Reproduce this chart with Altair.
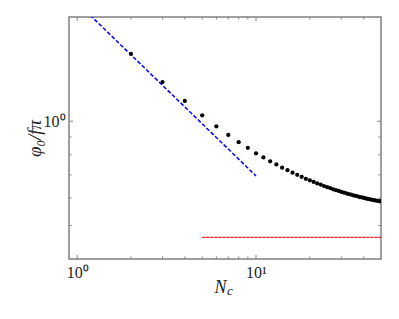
import altair as alt
import pandas as pd

# Data
N_vals = list(range(2, 51))
phi_vals = [1.565, 1.297, 1.144, 1.040, 0.967, 0.913, 0.870, 0.838, 0.808, 0.786,
            0.766, 0.750, 0.734, 0.722, 0.710, 0.700, 0.691,
            0.682, 0.675, 0.668, 0.661, 0.656, 0.650, 0.645, 0.641, 0.636, 0.632,
            0.629, 0.625, 0.622, 0.619, 0.616, 0.614, 0.611, 0.609, 0.607, 0.604,
            0.603, 0.601, 0.599, 0.597, 0.596, 0.594, 0.593, 0.591, 0.590, 0.589,
            0.588, 0.587]

fit_N = [1, 10]
fit_phi = [2.2, 0.695]

lim_N = [5, 50]
lim_phi = [0.462, 0.462]

x_major = [1, 10]
x_minor = [2, 3, 4, 5, 6, 7, 8, 9, 20, 30, 40]
y_major = [1]
y_minor = [0.5, 0.6, 0.7, 0.8, 0.9]

W, H = 312, 242
FONT = "Liberation Serif"
GRAY = "#808080"

pts = pd.DataFrame({"N": N_vals, "phi": phi_vals})
fit = pd.DataFrame({"N": fit_N, "phi": fit_phi})
lim = pd.DataFrame({"N": lim_N, "phi": lim_phi})

xscale = alt.Scale(type="log", domain=[0.9, 50], nice=False)
yscale = alt.Scale(type="log", domain=[0.4, 2], nice=False)

xaxis = alt.Axis(values=x_major, labelExpr="datum.value == 1 ? '10⁰' : '10¹'",
                 ticks=False, domain=False, grid=False, labelFont=FONT,
                 labelFontSize=16, labelColor="#222", labelPadding=5,
                 title="N", titleFont=FONT, titleFontStyle="italic",
                 titleFontWeight="normal", titleFontSize=18, titleColor="#222",
                 titleX=151, titleY=33, titleBaseline="alphabetic")
yaxis = alt.Axis(values=y_major, labelExpr="'10⁰'", ticks=False, domain=False,
                 grid=False, labelFont=FONT, labelFontSize=16, labelColor="#222",
                 labelPadding=4, title="φ₀/fπ", titleFont=FONT,
                 titleFontStyle="italic", titleFontWeight="normal",
                 titleFontSize=19, titleColor="#222", titleX=-35, titleY=121,
                 titleAlign="center", titleBaseline="middle", titleAngle=270)

base_x = alt.X("N:Q", scale=xscale, axis=xaxis)
base_y = alt.Y("phi:Q", scale=yscale, axis=yaxis)

points = alt.Chart(pts).mark_circle(size=18, color="black", opacity=1, clip=True).encode(
    x=base_x, y=base_y)

fit_line = alt.Chart(fit).mark_line(color="#0000ff", strokeDash=[4, 2],
                                     strokeWidth=1.5, clip=True).encode(
    x=alt.X("N:Q", scale=xscale), y=alt.Y("phi:Q", scale=yscale))

lim_line = alt.Chart(lim).mark_line(color="#ff1a1a", strokeDash=[3, 1],
                                     strokeWidth=1.4).encode(
    x=alt.X("N:Q", scale=xscale), y=alt.Y("phi:Q", scale=yscale))


def xticks(vals, length):
    d = pd.DataFrame({"N": vals})
    bot = alt.Chart(d).mark_rule(color=GRAY, strokeWidth=1).encode(
        x=alt.X("N:Q", scale=xscale), y=alt.value(H), y2=alt.value(H - length))
    top = alt.Chart(d).mark_rule(color=GRAY, strokeWidth=1).encode(
        x=alt.X("N:Q", scale=xscale), y=alt.value(0), y2=alt.value(length))
    return [bot, top]


def yticks(vals, length):
    d = pd.DataFrame({"phi": vals})
    left = alt.Chart(d).mark_rule(color=GRAY, strokeWidth=1).encode(
        y=alt.Y("phi:Q", scale=yscale), x=alt.value(0), x2=alt.value(length))
    right = alt.Chart(d).mark_rule(color=GRAY, strokeWidth=1).encode(
        y=alt.Y("phi:Q", scale=yscale), x=alt.value(W), x2=alt.value(W - length))
    return [left, right]


sub_c = alt.Chart(pd.DataFrame({"t": ["c"]})).mark_text(
    font=FONT, fontStyle="italic", fontSize=13, color="#222",
    align="left", baseline="alphabetic").encode(
    text="t:N", x=alt.value(158), y=alt.value(H + 36))

layers = ([lim_line, fit_line, points]
          + xticks(x_major, 4) + xticks(x_minor, 2.5)
          + yticks(y_major, 4) + yticks(y_minor, 2.5)
          + [sub_c])

chart = alt.layer(*layers).properties(
    width=W, height=H,
    autosize=alt.AutoSizeParams(type="none"),
    padding={"left": 61, "top": 9, "right": 10, "bottom": 52},
).configure_view(stroke=GRAY, strokeWidth=1.5)

chart.save("out.html", embed_options={"renderer": "svg", "actions": False})
